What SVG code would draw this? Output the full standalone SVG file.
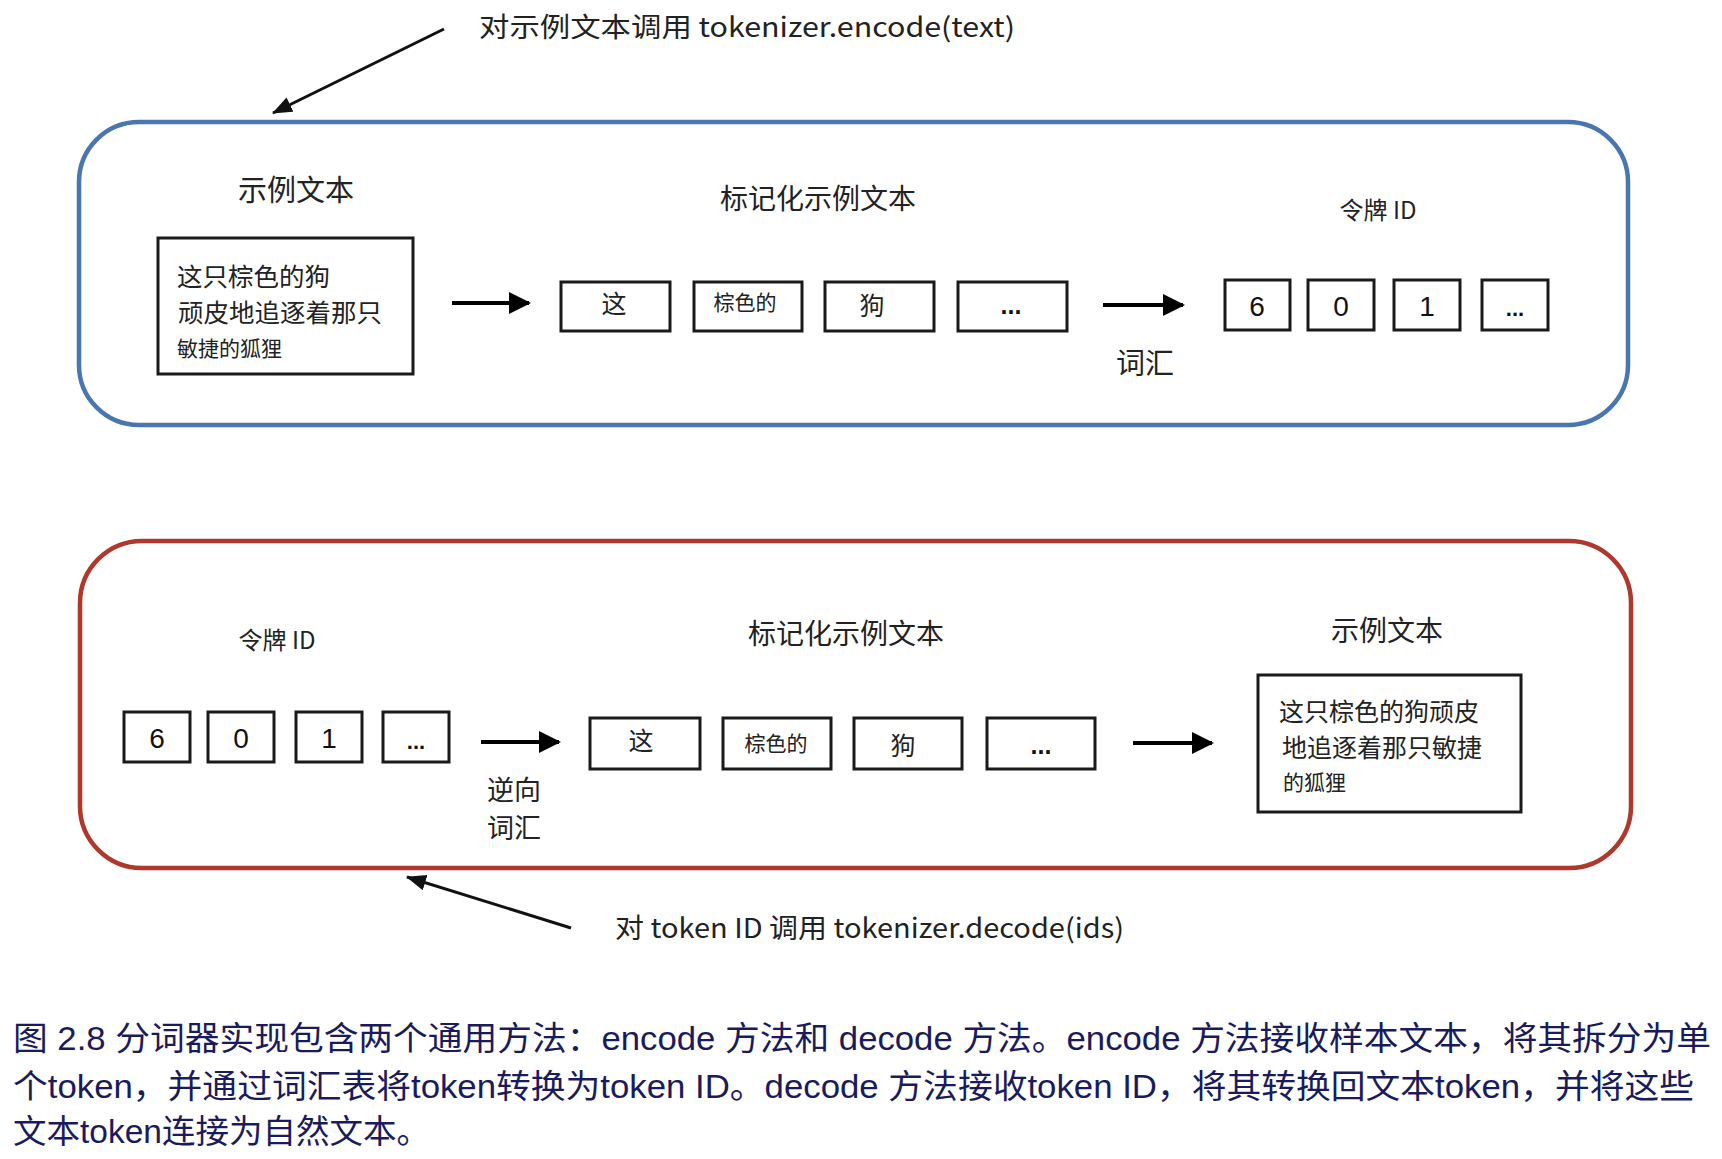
<svg xmlns="http://www.w3.org/2000/svg" width="1722" height="1159" viewBox="0 0 1722 1159">
<style>
.cjk{font-family:"Noto Sans CJK SC","Noto Sans",sans-serif;fill:#222;}
.lat{font-family:"Liberation Sans","Noto Sans CJK SC",sans-serif;fill:#111;}
.dots{font-family:"Liberation Sans",sans-serif;fill:#111;font-weight:bold;}
.box{fill:#fff;stroke:#1a1a1a;stroke-width:3;}
.frameB{fill:none;stroke:#4a76b0;stroke-width:4.5;}
.frameR{fill:none;stroke:#b0372b;stroke-width:4.5;}
.harrow{stroke:#000;stroke-width:4;fill:none;}
.darrow{stroke:#111;stroke-width:3;fill:none;}
.cap{font-family:"Liberation Sans","Noto Sans CJK SC",sans-serif;fill:#1a1b5c;font-size:33px;}
</style>
<defs>
<marker id="headH" markerUnits="userSpaceOnUse" markerWidth="24" markerHeight="24" refX="20" refY="11" orient="auto">
<path d="M0,0 L22,11 L0,22 Z" fill="#000"/>
</marker>
<marker id="headD" markerUnits="userSpaceOnUse" markerWidth="22" markerHeight="20" refX="19" refY="8" orient="auto">
<path d="M0,0 L20,8 L0,16 Z" fill="#111"/>
</marker>
</defs>
<rect width="1722" height="1159" fill="#fff"/>

<g id="encode-frame">
<rect class="frameB" x="79" y="122" width="1549" height="303" rx="60" ry="60"/>
</g>
<g id="decode-frame">
<rect class="frameR" x="80" y="541" width="1551" height="327" rx="62" ry="62"/>
</g>

<g id="encode-label">
<text class="cjk" x="479" y="37" font-size="27" textLength="536" lengthAdjust="spacingAndGlyphs">对示例文本调用 tokenizer.encode(text)</text>
</g>
<g id="decode-label">
<text class="cjk" x="615" y="938" font-size="27" textLength="509" lengthAdjust="spacingAndGlyphs">对 token ID 调用 tokenizer.decode(ids)</text>
</g>

<!-- top section -->
<g id="top-title-sample"><text class="cjk" x="296" y="201" font-size="29" text-anchor="middle">示例文本</text></g>
<g id="top-sample-box">
<rect class="box" x="158" y="238" width="255" height="136"/>
<text class="cjk" x="177" y="286" font-size="25.5">这只棕色的狗</text>
<text class="cjk" x="178" y="322" font-size="25.5">顽皮地追逐着那只</text>
<text class="cjk" x="177" y="356" font-size="21">敏捷的狐狸</text>
</g>
<g id="top-title-tokenized"><text class="cjk" x="818" y="209" font-size="28" text-anchor="middle">标记化示例文本</text></g>
<g id="top-tok-1"><rect class="box" x="561" y="282" width="109" height="49"/><text class="cjk" x="614" y="313" font-size="25" text-anchor="middle">这</text></g>
<g id="top-tok-2"><rect class="box" x="694" y="282" width="108" height="49"/><text class="cjk" x="745" y="310" font-size="21" text-anchor="middle">棕色的</text></g>
<g id="top-tok-3"><rect class="box" x="825" y="282" width="109" height="49"/><text class="cjk" x="872" y="315" font-size="25" text-anchor="middle">狗</text></g>
<g id="top-tok-4"><rect class="box" x="958" y="282" width="109" height="49"/><text class="dots" x="1011" y="314" font-size="25" text-anchor="middle">...</text></g>
<g id="top-title-ids"><text class="cjk" x="1378" y="219" font-size="24" text-anchor="middle">令牌 ID</text></g>
<g id="top-vocab-label"><text class="cjk" x="1145" y="374" font-size="29" text-anchor="middle">词汇</text></g>
<g id="top-id-1"><rect class="box" x="1225" y="280" width="65" height="50"/><text class="lat" x="1257" y="316" font-size="28" text-anchor="middle">6</text></g>
<g id="top-id-2"><rect class="box" x="1308" y="280" width="66" height="50"/><text class="lat" x="1341" y="316" font-size="28" text-anchor="middle">0</text></g>
<g id="top-id-3"><rect class="box" x="1394" y="280" width="66" height="50"/><text class="lat" x="1427" y="316" font-size="28" text-anchor="middle">1</text></g>
<g id="top-id-4"><rect class="box" x="1482" y="280" width="66" height="50"/><text class="dots" x="1515" y="316" font-size="22" text-anchor="middle" font-weight="normal">...</text></g>

<!-- bottom section -->
<g id="bot-title-ids"><text class="cjk" x="277" y="649" font-size="24" text-anchor="middle">令牌 ID</text></g>
<g id="bot-id-1"><rect class="box" x="124" y="712" width="66" height="50"/><text class="lat" x="157" y="748" font-size="28" text-anchor="middle">6</text></g>
<g id="bot-id-2"><rect class="box" x="208" y="712" width="66" height="50"/><text class="lat" x="241" y="748" font-size="28" text-anchor="middle">0</text></g>
<g id="bot-id-3"><rect class="box" x="296" y="712" width="66" height="50"/><text class="lat" x="329" y="748" font-size="28" text-anchor="middle">1</text></g>
<g id="bot-id-4"><rect class="box" x="383" y="712" width="66" height="50"/><text class="dots" x="416" y="749" font-size="22" text-anchor="middle" font-weight="normal">...</text></g>
<g id="bot-invvocab-label">
<text class="cjk" x="514" y="800" font-size="27" text-anchor="middle">逆向</text>
<text class="cjk" x="514" y="838" font-size="27" text-anchor="middle">词汇</text>
</g>
<g id="bot-title-tokenized"><text class="cjk" x="846" y="644" font-size="28" text-anchor="middle">标记化示例文本</text></g>
<g id="bot-tok-1"><rect class="box" x="590" y="718" width="110" height="51"/><text class="cjk" x="641" y="750" font-size="25" text-anchor="middle">这</text></g>
<g id="bot-tok-2"><rect class="box" x="723" y="718" width="108" height="51"/><text class="cjk" x="776" y="751" font-size="21" text-anchor="middle">棕色的</text></g>
<g id="bot-tok-3"><rect class="box" x="854" y="718" width="108" height="51"/><text class="cjk" x="903" y="755" font-size="25" text-anchor="middle">狗</text></g>
<g id="bot-tok-4"><rect class="box" x="987" y="718" width="108" height="51"/><text class="dots" x="1041" y="754" font-size="25" text-anchor="middle">...</text></g>
<g id="bot-title-sample"><text class="cjk" x="1387" y="641" font-size="28" text-anchor="middle">示例文本</text></g>
<g id="bot-sample-box">
<rect class="box" x="1258" y="675" width="263" height="137"/>
<text class="cjk" x="1279" y="721" font-size="25">这只棕色的狗顽皮</text>
<text class="cjk" x="1282" y="757" font-size="25">地追逐着那只敏捷</text>
<text class="cjk" x="1283" y="790" font-size="21">的狐狸</text>
</g>

<g id="connectors">
<line class="harrow" x1="452" y1="303" x2="529" y2="303" marker-end="url(#headH)"/>
<line class="harrow" x1="1103" y1="305" x2="1183" y2="305" marker-end="url(#headH)"/>
<line class="harrow" x1="481" y1="742" x2="559" y2="742" marker-end="url(#headH)"/>
<line class="harrow" x1="1133" y1="743" x2="1212" y2="743" marker-end="url(#headH)"/>
<line class="darrow" x1="444" y1="29" x2="273" y2="113" marker-end="url(#headD)"/>
<line class="darrow" x1="571" y1="928" x2="407" y2="877" marker-end="url(#headD)"/>
</g>

<g id="caption">
<text class="cap" x="13" y="1050" textLength="1698" lengthAdjust="spacingAndGlyphs">图 2.8 分词器实现包含两个通用方法：encode 方法和 decode 方法。encode 方法接收样本文本，将其拆分为单</text>
<text class="cap" x="13" y="1098" textLength="1681" lengthAdjust="spacingAndGlyphs">个token，并通过词汇表将token转换为token ID。decode 方法接收token ID，将其转换回文本token，并将这些</text>
<text class="cap" x="13" y="1143" textLength="417" lengthAdjust="spacingAndGlyphs">文本token连接为自然文本。</text>
</g>
</svg>
